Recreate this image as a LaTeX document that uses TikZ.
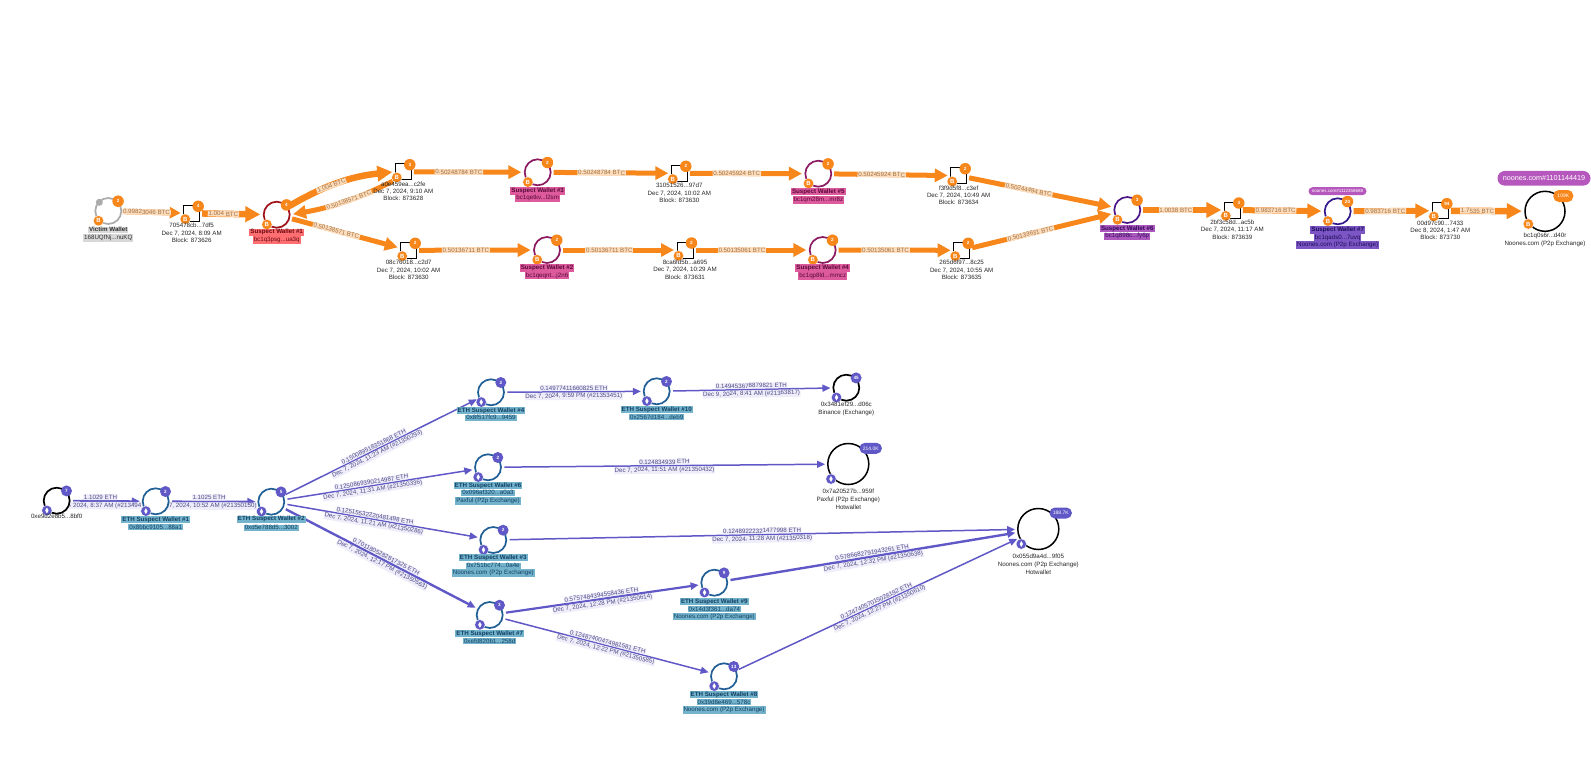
\documentclass[tikz,border=0pt]{standalone}
\usepackage{fontspec}
\setmainfont{Liberation Sans}
\usetikzlibrary{arrows.meta,backgrounds}
\definecolor{btcorange}{HTML}{F7861B}
\definecolor{btcpeach}{HTML}{FCDDBE}
\definecolor{btctext}{HTML}{A2703F}
\definecolor{ethviolet}{HTML}{5F58C6}
\definecolor{ethlavender}{HTML}{E9E7F8}
\definecolor{ethtext}{HTML}{4D4A86}
\definecolor{ethring}{HTML}{205E96}
\definecolor{ethbox}{HTML}{73B4CC}
\definecolor{ethname}{HTML}{123E62}
\definecolor{redring}{HTML}{A01018}
\definecolor{redbox}{HTML}{FF6F72}
\definecolor{redname}{HTML}{6A0A10}
\definecolor{pinkring}{HTML}{8C1A60}
\definecolor{pinkbox}{HTML}{DD5A9C}
\definecolor{pinkname}{HTML}{580A3A}
\definecolor{violetring}{HTML}{4E1688}
\definecolor{violetbox}{HTML}{AD58BE}
\definecolor{violetname}{HTML}{300A5A}
\definecolor{indigoring}{HTML}{33198C}
\definecolor{indigobox}{HTML}{7C56C4}
\definecolor{indigoname}{HTML}{1E0E5A}
\definecolor{greyring}{HTML}{ABABAB}
\definecolor{greybox}{HTML}{D8D8D8}
\definecolor{greyname}{HTML}{303030}
\definecolor{tagpurple}{HTML}{B557BC}
\tikzset{
    every node/.style={font=\fontsize{6.2}{7.4}\selectfont, inner sep=0pt},
    wallet/.style={circle, minimum size=26pt, line width=1.7pt, fill=white},
    bigwallet/.style={circle, minimum size=#1, line width=1.5pt, draw=black, fill=white},
    txbox/.style={rectangle, minimum size=16pt, line width=1pt, draw=black, fill=white},
    btcbadge/.style={circle, minimum size=11.5pt, fill=btcorange, text=white, font=\fontsize{4.6}{5}\selectfont\bfseries},
    ethbadge/.style={circle, minimum size=11pt, fill=ethviolet, text=white, font=\fontsize{4.6}{5}\selectfont\bfseries},
    btcpill/.style={rectangle, rounded corners=5.5pt, minimum width=20pt, minimum height=12pt, fill=btcorange, text=white, font=\fontsize{5}{5}\selectfont},
    ethpill/.style={rectangle, rounded corners=5.5pt, minimum width=22.5pt, minimum height=11pt, fill=ethviolet, text=white, font=\fontsize{5}{5}\selectfont},
    btccoin/.style={circle, minimum size=10.5pt, fill=btcorange, draw=white, line width=.4pt, text=white, font=\fontsize{6}{6}\selectfont\bfseries},
    ethcoin/.style={circle, minimum size=10.5pt, fill=ethviolet, draw=white, line width=.4pt,
        path picture={\fill[white] (path picture bounding box.center) ++(0,3pt) -- ++(1.7pt,-3pt) -- ++(-1.7pt,-3pt) -- ++(-1.7pt,3pt) -- cycle;}},
    walletname/.style 2 args={fill=#1, text=#2, inner xsep=1pt, inner ysep=.8pt, font=\fontsize{6.2}{7.4}\selectfont\bfseries},
    walletline/.style 2 args={fill=#1, text=#2, inner xsep=1pt, inner ysep=.8pt},
    plainline/.style={align=center, text=black!85},
    btcedge/.style 2 args={draw=btcorange, line width=#1, shorten >=2.5pt, shorten <=2pt,
        -{Triangle[length=#2, width=#2]}},
    btclabel/.style={pos=.42, sloped, fill=btcpeach, text=btctext, inner xsep=.8pt, inner ysep=.6pt},
    ethedge/.style={draw=ethviolet, line width=#1, shorten >=2pt, shorten <=2.5pt,
        -{Triangle[length=8pt, width=7pt]}},
    ethupper/.style={sloped, above, fill=ethlavender, fill opacity=.75, text opacity=1, text=ethtext, inner xsep=.5pt, inner ysep=.8pt},
    ethlower/.style={sloped, below, fill=ethlavender, fill opacity=.75, text opacity=1, text=ethtext, inner xsep=.5pt, inner ysep=.8pt},
    tagpill/.style={rectangle, rounded corners=#1, fill=tagpurple, text=white},
}
\begin{document}
\begin{tikzpicture}[x=1pt, y=-1pt]
    \useasboundingbox (0,0) rectangle (1591,764);

    % bitcoin trail
    \foreach \id/\px/\py/\rc/\cnt in {vic/108.3/211/greyring/2, sw1/276.7/214.7/redring/4, sw3/537.7/172.3/pinkring/2,
        sw5/818.3/173.7/pinkring/2, sw2/547/250/pinkring/2, sw4/822.7/250/pinkring/2,
        sw6/1127.3/210/violetring/3, sw7/1337.7/211.3/indigoring/20} {
        \node[wallet, draw=\rc] (\id) at (\px,\py) {};
        \node[btcbadge] (\id n) at (\id.45) {\cnt};
        \node[btccoin] (\id c) at (\id.225) {B};
    }
    \foreach \id/\px/\py/\cnt/\hash/\stamp/\blk in {tx1/191.7/213.3/4/{705478cb...7df5}/{Dec 7, 2024, 8:09 AM}/873626,
        tx2/403.3/171.7/3/{a0e459ea...c2fe}/{Dec 7, 2024, 9:10 AM}/873628,
        tx3/408.7/250.3/2/{08c76018...c2d7}/{Dec 7, 2024, 10:02 AM}/873630,
        tx4/679.3/173.3/2/{31051526...97d7}/{Dec 7, 2024, 10:02 AM}/873630,
        tx5/958.7/175.7/2/{f3f9d5f8...c3ef}/{Dec 7, 2024, 10:49 AM}/873634,
        tx6/685/250/2/{8ca6fd5b...a695}/{Dec 7, 2024, 10:29 AM}/873631,
        tx7/961.7/250.3/2/{265d6f97...8c25}/{Dec 7, 2024, 10:55 AM}/873635,
        tx8/1232.3/210/3/{2bf3c58d...ac5b}/{Dec 7, 2024, 11:17 AM}/873639,
        tx9/1440.3/210.7/94/{00d97c90...7433}/{Dec 8, 2024, 1:47 AM}/873730} {
        \node[txbox] (\id) at (\px,\py) {};
        \node[btcbadge, xshift=-2pt, yshift=-1.5pt] (\id n) at (\id.north east) {\cnt};
        \node[btccoin, xshift=2pt, yshift=2.7pt] (\id c) at (\id.south west) {B};
        \node[plainline, anchor=north, yshift=-1.5pt] (\id t) at (\id.south) {\hash\\[-.2pt]\stamp\\[-.2pt]Block: \blk};
    }
    \node[bigwallet=40pt] (noo) at (1545,211.3) {};
    \node[btcpill] (noo n) at (1563.3,196) {109K};
    \node[btccoin] (noo c) at (1528.3,224) {B};
    \node[plainline] (noo t) at (1545,239.7) {bc1q0s6r...d40r\\[.6pt]Noones.com (P2p Exchange)};
    \node[tagpill=7.3pt, minimum width=93pt, minimum height=14.7pt, font=\fontsize{7.2}{8}\selectfont] (noo tag) at (1544,178.3) {noones.com\#1101144419};
    \node[tagpill=4pt, minimum width=58pt, minimum height=8pt, font=\fontsize{4.5}{5}\selectfont] (sw7 tag) at (1337.5,191.2) {noones.com\#1112358688};
    \node[circle, minimum size=7pt, fill=greyring] (vic dot) at (99.3,202.3) {};

    \node[walletname={greybox}{greyname}] (vic a) at (108.3,229.7) {Victim Wallet};
    \node[walletline={greybox}{greyname}] (vic b) at (108.3,238) {168UQfNj...nuKQ};
    \node[walletname={redbox}{redname}] (sw1 a) at (276.7,232.3) {Suspect Wallet \#1};
    \node[walletline={redbox}{redname}] (sw1 b) at (276.7,240) {bc1q3psg...ua3q};
    \node[walletname={pinkbox}{pinkname}] (sw3 a) at (537.7,191) {Suspect Wallet \#3};
    \node[walletline={pinkbox}{pinkname}] (sw3 b) at (537.7,198) {bc1qetkv...l2sm};
    \node[walletname={pinkbox}{pinkname}] (sw5 a) at (818.3,191.7) {Suspect Wallet \#5};
    \node[walletline={pinkbox}{pinkname}] (sw5 b) at (818.3,200) {bc1qm28m...mr8z};
    \node[walletname={pinkbox}{pinkname}] (sw2 a) at (547,268) {Suspect Wallet \#2};
    \node[walletline={pinkbox}{pinkname}] (sw2 b) at (547,275.7) {bc1qeqnt...j2n6};
    \node[walletname={pinkbox}{pinkname}] (sw4 a) at (822.7,268) {Suspect Wallet \#4};
    \node[walletline={pinkbox}{pinkname}] (sw4 b) at (822.7,276) {bc1qp8ld...mmcz};
    \node[walletname={violetbox}{violetname}] (sw6 a) at (1127.3,228.7) {Suspect Wallet \#6};
    \node[walletline={violetbox}{violetname}] (sw6 b) at (1127.3,236.3) {bc1q898c...fy6p};
    \node[walletname={indigobox}{indigoname}] (sw7 a) at (1337.7,230) {Suspect Wallet \#7};
    \node[walletline={indigobox}{indigoname}] (sw7 b) at (1337.7,237.7) {bc1qads0...7uvq};
    \node[walletline={indigobox}{indigoname}] (sw7 c2) at (1337.7,245) {Noones.com (P2p Exchange)};

    % ethereum trail
    \foreach \id/\px/\py/\rc/\cnt in {eo/56.7/500.7/black/7, e1/155.7/501.3/ethring/2, e2/271.3/501.7/ethring/5,
        e4/491/392.3/ethring/2, e6/488/467.3/ethring/2, e3/493.3/540/ethring/2, e7/489.7/615/ethring/3,
        e10/656.7/391.3/ethring/2, e9/714.3/582.7/ethring/9, e8/724/676.3/ethring/13, bin/846.3/387.7/black/45} {
        \node[wallet, draw=\rc] (\id) at (\px,\py) {};
        \node[ethbadge] (\id n) at (\id.45) {\cnt};
        \node[ethcoin] (\id c) at (\id.225) {};
    }
    \node[bigwallet=41pt] (pax) at (848.3,464) {};
    \node[ethpill] (pax n) at (870.7,448.3) {214.0K};
    \node[ethcoin] (pax c) at (831,479) {};
    \node[bigwallet=41pt] (hot) at (1038.3,529) {};
    \node[ethpill] (hot n) at (1060.7,513) {188.7K};
    \node[ethcoin] (hot c) at (1021.3,544) {};

    \node[text=black!85] (eo t) at (56.7,516.7) {0xe9d2e8b5...8bf0};
    \node[plainline] (bin t) at (846.3,408.7) {0x3481ef29...d06c\\[.6pt]Binance (Exchange)};
    \node[plainline] (pax t) at (848.3,499) {0x7a20527b...959f\\[.6pt]Paxful (P2p Exchange)\\[.6pt]Hotwallet};
    \node[plainline] (hot t) at (1038.3,564) {0x055d9a4d...9f05\\[.6pt]Noones.com (P2p Exchange)\\[.6pt]Hotwallet};
    \foreach \id/\px/\py/\txt in {e1/155.7/519.7/1, e2/271.3/519.3/2, e4/491/410.7/4, e6/488/485.7/6, e3/493.3/557.7/3,
        e7/489.7/633.7/7, e10/656.7/409.7/10, e9/714.3/601.7/9, e8/724/694.7/8} {
        \node[walletname={ethbox}{ethname}] (\id a) at (\px,\py) {ETH Suspect Wallet \#\txt};
    }
    \foreach \id/\px/\py/\txt in {e1/155.7/527/{0x8bbc9105...88a1}, e2/271.3/527.7/{0xd5e788d5...3002}, e4/491/417.7/{0x8f517fc9...9459},
        e6/488/492.7/{0x096af320...a0a3}, e3/493.3/565.7/{0x751bc774...0a4e}, e7/489.7/641/{0xefd820b1...258d},
        e10/656.7/417/{0x2567d184...deb9}, e9/714.3/609/{0x14d3f361...da74}, e8/724/702/{0x39d8e469...578c},
        e6/488/501/{Paxful (P2p Exchange)}, e3/493.3/573/{Noones.com (P2p Exchange)},
        e9/714.3/616.7/{Noones.com (P2p Exchange)}, e8/724/710/{Noones.com (P2p Exchange)}} {
        \node[walletline={ethbox}{ethname}] (\id b\py) at (\px,\py) {\txt};
    }

    \begin{scope}[on background layer]
        \draw[btcedge={5.5pt}{11pt}] (vic) -- (tx1) node[btclabel, pos=.4] (lb1) {0.99823046 BTC};
        \draw[btcedge={6.5pt}{15pt}] (tx1) -- (sw1) node[btclabel, pos=.37] (lb2) {1.004 BTC};
        \draw[btcedge={6.5pt}{15pt}] (sw1.35) to[bend left=12] node[btclabel, pos=.42] (lb3) {1.004 BTC} (tx2.west);
        \draw[btcedge={5pt}{13pt}] (tx2.225) to[bend left=8] node[btclabel, pos=.45] (lb4) {0.50138571 BTC} (sw1.east);
        \draw[btcedge={5pt}{13pt}] (sw1) -- (tx3) node[btclabel] (lb5) {0.50138571 BTC};
        \draw[btcedge={5pt}{13pt}] (tx2) -- (sw3) node[btclabel] (lb6) {0.50248784 BTC};
        \draw[btcedge={5pt}{13pt}] (sw3) -- (tx4) node[btclabel] (lb7) {0.50248784 BTC};
        \draw[btcedge={5pt}{13pt}] (tx4) -- (sw5) node[btclabel] (lb8) {0.50245924 BTC};
        \draw[btcedge={5pt}{13pt}] (sw5) -- (tx5) node[btclabel] (lb9) {0.50245924 BTC};
        \draw[btcedge={5pt}{13pt}] (tx5) -- (sw6) node[btclabel] (lb10) {0.50244494 BTC};
        \draw[btcedge={5pt}{13pt}] (tx3) -- (sw2) node[btclabel] (lb11) {0.50136711 BTC};
        \draw[btcedge={5pt}{13pt}] (sw2) -- (tx6) node[btclabel] (lb12) {0.50136711 BTC};
        \draw[btcedge={5pt}{13pt}] (tx6) -- (sw4) node[btclabel] (lb13) {0.50135061 BTC};
        \draw[btcedge={5pt}{13pt}] (sw4) -- (tx7) node[btclabel] (lb14) {0.50135061 BTC};
        \draw[btcedge={5pt}{13pt}] (tx7) -- (sw6) node[btclabel] (lb15) {0.50133631 BTC};
        \draw[btcedge={6.5pt}{15pt}] (sw6) -- (tx8) node[btclabel] (lb16) {1.0038 BTC};
        \draw[btcedge={6pt}{14pt}] (tx8) -- (sw7) node[btclabel] (lb17) {0.983716 BTC};
        \draw[btcedge={6pt}{14pt}] (sw7) -- (tx9) node[btclabel] (lb18) {0.983716 BTC};
        \draw[btcedge={6.5pt}{15pt}] (tx9) -- (noo) node[btclabel, pos=.38] (lb19) {1.7535 BTC};

        \draw[ethedge=1.8pt] (eo) -- (e1) node[ethupper, pos=.42] (la1) {1.1029 ETH} node[ethlower, pos=.42, xshift=-3pt] (lc1) {Dec 7, 2024, 8:37 AM (\#213494};
        \draw[ethedge=1.8pt] (e1) -- (e2) node[ethupper, pos=.45] (la2) {1.1025 ETH} node[ethlower, pos=.42] (lc2) {Dec 7, 2024, 10:52 AM (\#21350150)};
        \draw[ethedge=1.5pt] (e2) -- (e4) node[ethupper, pos=.47] (la3) {0.150089518351868 ETH} node[ethlower, pos=.47] (lc3) {Dec 7, 2024, 11:23 AM (\#21350293)};
        \draw[ethedge=1.5pt] (e2) -- (e6) node[ethupper, pos=.46] (la4) {0.1250869390214987 ETH} node[ethlower, pos=.46] (lc4) {Dec 7, 2024, 11:31 AM (\#21350336)};
        \draw[ethedge=1.5pt] (e2) -- (e3) node[ethupper, pos=.46] (la5) {0.12515532220481498 ETH} node[ethlower, pos=.46] (lc5) {Dec 7, 2024, 11:21 AM (\#21350286)};
        \draw[ethedge=2.4pt] (e2) -- (e7) node[ethupper, pos=.52] (la6) {0.7011805282817325 ETH} node[ethlower, pos=.52] (lc6) {Dec 7, 2024, 12:17 PM (\#21350563)};
        \draw[ethedge=1.5pt] (e4) -- (e10) node[ethupper, midway] (la7) {0.14977411660825 ETH} node[ethlower, midway] (lc7) {Dec 7, 2024, 9:59 PM (\#21353451)};
        \draw[ethedge=1.5pt] (e10) -- (bin) node[ethupper, midway] (la8) {0.149453678879821 ETH} node[ethlower, midway] (lc8) {Dec 9, 2024, 8:41 AM (\#21363817)};
        \draw[ethedge=1.5pt] (e6) -- (pax) node[ethupper, midway] (la9) {0.124834939 ETH} node[ethlower, midway] (lc9) {Dec 7, 2024, 11:51 AM (\#21350432)};
        \draw[ethedge=1.5pt] (e3) -- (hot) node[ethupper, midway] (la10) {0.12489222321477998 ETH} node[ethlower, midway] (lc10) {Dec 7, 2024, 11:28 AM (\#21350318)};
        \draw[ethedge=2.2pt] (e7) -- (e9) node[ethupper, midway] (la11) {0.5757484394558436 ETH} node[ethlower, midway] (lc11) {Dec 7, 2024, 12:28 PM (\#21350614)};
        \draw[ethedge=1.5pt] (e7) -- (e8) node[ethupper, midway] (la12) {0.12487400474981581 ETH} node[ethlower, midway] (lc12) {Dec 7, 2024, 12:22 PM (\#21350585)};
        \draw[ethedge=2.4pt] (e9) -- (hot) node[ethupper, midway] (la13) {0.5786682791943261 ETH} node[ethlower, midway] (lc13) {Dec 7, 2024, 12:32 PM (\#21350638)};
        \draw[ethedge=1.5pt] (e8) -- (hot) node[ethupper, midway] (la14) {0.12474057015028192 ETH} node[ethlower, midway] (lc14) {Dec 7, 2024, 12:27 PM (\#21350610)};
    \end{scope}
\end{tikzpicture}
\end{document}
